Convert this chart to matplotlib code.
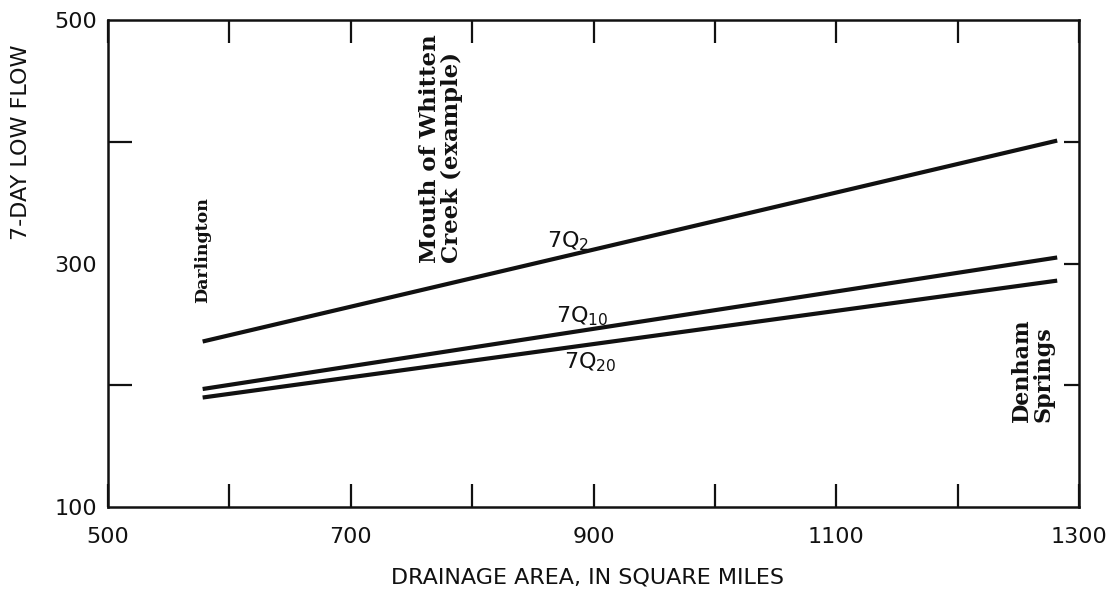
import matplotlib
matplotlib.use("Agg")
import matplotlib.pyplot as plt
from matplotlib.ticker import FixedLocator, NullFormatter

# Drainage area (sq mi) at the two ends of each relation line
area = [578, 1282]
# 7-day low flow along each line
flow_7q2 = [236, 401]
flow_7q10 = [197, 305]
flow_7q20 = [190, 286]

x_major = [500, 700, 900, 1100, 1300]
x_minor = [600, 800, 1000, 1200]
y_labels = [100, 300, 500]
y_left_ticks = [200, 400]
y_right_ticks = [200, 300, 400]

plt.rcParams["mathtext.fontset"] = "dejavusans"
plt.rcParams["font.family"] = "DejaVu Sans"
ink = "#111111"

fig = plt.figure(figsize=(11.13, 5.89), dpi=100)
ax = fig.add_axes([0.097, 0.139, 0.8725, 0.827])
ax.set_xlim(500, 1300)
ax.set_ylim(100, 500)

for s in ax.spines.values():
    s.set_linewidth(1.8)
    s.set_color(ink)

for series in (flow_7q2, flow_7q10, flow_7q20):
    ax.plot(area, series, color=ink, lw=3.0, solid_capstyle="butt")

# x axis: labelled every 200, ticks every 100, top and bottom
ax.xaxis.set_major_locator(FixedLocator(x_major))
ax.xaxis.set_minor_locator(FixedLocator(x_minor))
ax.tick_params(axis="x", which="both", direction="in", length=16.5, width=1.6,
               top=True, bottom=True, colors=ink, labelsize=16, pad=14)

# y axis: labels at 100/300/500, short ticks inside
ax.yaxis.set_major_locator(FixedLocator(y_labels))
ax.yaxis.set_minor_locator(FixedLocator(y_left_ticks))
ax.yaxis.set_minor_formatter(NullFormatter())
ax.tick_params(axis="y", which="major", length=0, labelsize=16, pad=8, colors=ink)
ax.tick_params(axis="y", which="minor", direction="in", length=17, width=1.6,
               left=True, right=False, colors=ink)

ax_r = ax.twinx()
ax_r.set_ylim(100, 500)
ax_r.set_yticks(y_right_ticks)
ax_r.tick_params(axis="y", direction="in", length=11, width=1.6,
                 labelright=False, colors=ink)
for s in ax_r.spines.values():
    s.set_visible(False)

# line labels
ax.text(879, 313.6, r"7Q$_{2}$", fontsize=16, ha="center", va="baseline", color=ink)
ax.text(891, 252, r"7Q$_{10}$", fontsize=16, ha="center", va="baseline", color=ink)
ax.text(897, 214, r"7Q$_{20}$", fontsize=16, ha="center", va="baseline", color=ink)

# site annotations
site_font = dict(family="DejaVu Serif", weight="bold", color=ink,
                 rotation=90, ha="center", va="bottom", multialignment="left")
ax.text(578, 267.6, "Darlington", fontsize=12.5, **site_font)
ax.text(774, 300.4, "Mouth of Whitten\nCreek (example)", fontsize=16.5,
        linespacing=1.0, **site_font)
ax.text(1262, 170, "Denham\nSprings", fontsize=16, linespacing=1.0, **site_font)

# axis titles
fig.text(0.528, 1 - 578 / 589, "DRAINAGE AREA, IN SQUARE MILES", fontsize=16,
         ha="center", va="center", color=ink)
fig.text(21 / 1113, 1 - 240 / 589, "7-DAY LOW FLOW", fontsize=16, rotation=90,
         ha="center", va="bottom", color=ink)

fig.savefig("out.png", dpi=100, facecolor="white")
